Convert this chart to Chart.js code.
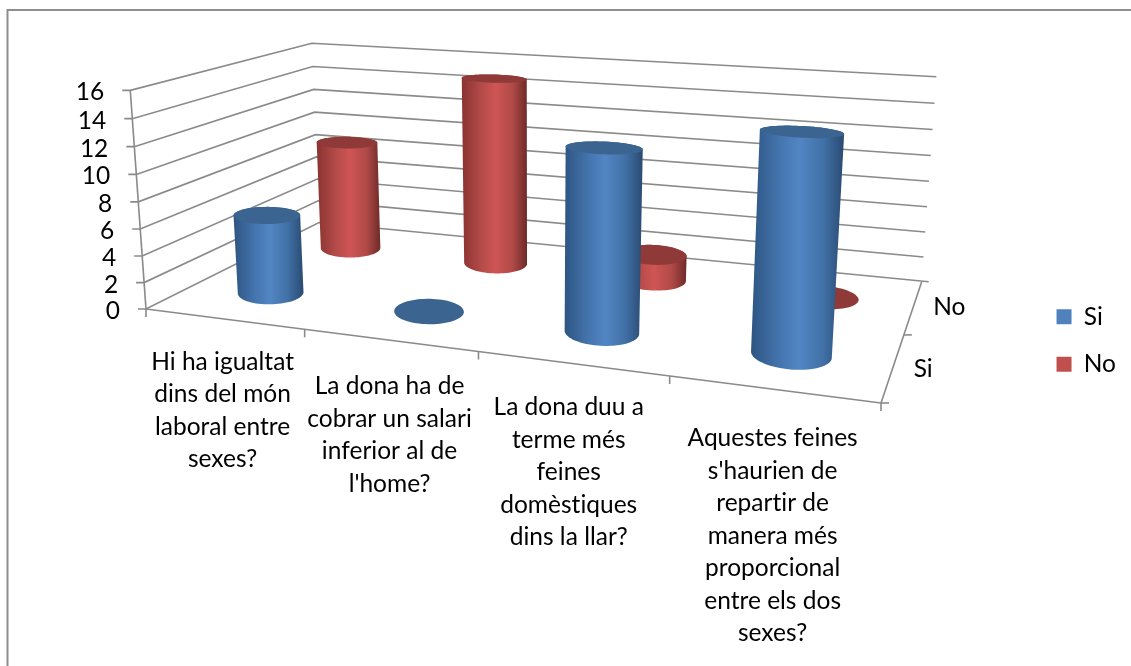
<!DOCTYPE html>
<html>
<head>
<meta charset="utf-8">
<style>html,body{margin:0;background:#fff}canvas{display:block}</style>
<script src="https://cdn.jsdelivr.net/npm/chart.js@4"></script>
</head>
<body>
<canvas id="grafic" width="1131" height="666"></canvas>
<script>
const categories = [
    ['Hi ha igualtat', 'dins del món', 'laboral entre', 'sexes?'],
    ['La dona ha de', 'cobrar un salari', 'inferior al de', "l'home?"],
    ['La dona duu a', 'terme més', 'feines', 'domèstiques', 'dins la llar?'],
    ['Aquestes feines', "s'haurien de", 'repartir de', 'manera més', 'proporcional', 'entre els dos', 'sexes?']
];
const valorsSi = [6, 0, 13, 15];
const valorsNo = [9, 15, 2, 0];
const maxY = 16;
const pasY = 2;

// terra de la caixa 3D en pixels (davant-esq, davant-dre, fons-dre, fons-esq)
const terra = [[146, 309], [881, 403], [921.7, 281.7], [319, 222.5]];
const GRIS = '#8a8a8a';
const FONT = '24.5px Lato';
const RADI_U = 0.05, RADI_W = 0.115, ESTRET_W = 0.6;
const ajustEtiq = [[-1, 0], [0, 3], [-3, 1], [0, 6]];
const ajustFila = [[30, 2], [36, 0]];
const estils = [
    { tapa: '#3c6491', stops: ['#2d5582', '#4474ad', '#5285c4', '#4070a5', '#2a4a72'] },
    { tapa: '#8f3a38', stops: ['#8a3331', '#b34b49', '#cf5553', '#b04a48', '#6e2a28'] }
];

function homografia(q) {
    const [[x0, y0], [x1, y1], [x2, y2], [x3, y3]] = q;
    const dx1 = x1 - x2, dx2 = x3 - x2, sx = x0 - x1 + x2 - x3;
    const dy1 = y1 - y2, dy2 = y3 - y2, sy = y0 - y1 + y2 - y3;
    const den = dx1 * dy2 - dx2 * dy1;
    const g = (sx * dy2 - dx2 * sy) / den, h = (dx1 * sy - sx * dy1) / den;
    const a = x1 - x0 + g * x1, b = x3 - x0 + h * x3;
    const d = y1 - y0 + g * y1, e = y3 - y0 + h * y3;
    return (u, w) => {
        const z = g * u + h * w + 1;
        return [(a * u + b * w + x0) / z, (d * u + e * w + y0) / z];
    };
}
const hTerra = homografia(terra);

// alçada total en pixels segons el punt del terra, i les verticals convergeixen cap avall
function projecta(u, w, v) {
    const p = hTerra(u, w);
    const alt = -0.0016 * p[0] + 0.4519 * p[1] + 79.2;
    const t = v / (v + (1 - v) * 1.04);
    return [p[0] + (p[0] - 535) * 0.000185 * alt * t, p[1] - alt * t];
}

function linia(ctx, a, b) {
    ctx.beginPath();
    ctx.moveTo(a[0], a[1]);
    ctx.lineTo(b[0], b[1]);
    ctx.stroke();
}

function envolupant(punts) {
    const p = punts.slice().sort((a, b) => a[0] - b[0] || a[1] - b[1]);
    const cross = (o, a, b) => (a[0] - o[0]) * (b[1] - o[1]) - (a[1] - o[1]) * (b[0] - o[0]);
    const fer = llista => {
        const r = [];
        llista.forEach(c => {
            while (r.length > 1 && cross(r[r.length - 2], r[r.length - 1], c) <= 0) r.pop();
            r.push(c);
        });
        r.pop();
        return r;
    };
    return fer(p).concat(fer(p.slice().reverse()));
}

function poligon(ctx, punts, color) {
    ctx.beginPath();
    punts.forEach((p, i) => i ? ctx.lineTo(p[0], p[1]) : ctx.moveTo(p[0], p[1]));
    ctx.closePath();
    ctx.fillStyle = color;
    ctx.fill();
}

// com més amunt, més plana es veu la tapa
function cercle(u, w, v) {
    const c = projecta(u, w, v), pu = projecta(u + RADI_U, w, v), pw = projecta(u, w + RADI_W, v);
    const pla = 1 - 0.35 * v;
    const ux = pu[0] - c[0], uy = pu[1] - c[1], wx = (pw[0] - c[0]) * ESTRET_W, wy = (pw[1] - c[1]) * pla;
    const r = [];
    for (let i = 0; i < 72; i++) {
        const a = i / 72 * Math.PI * 2, co = Math.cos(a), si = Math.sin(a);
        r.push([c[0] + ux * co + wx * si, c[1] + uy * co + wy * si]);
    }
    return r;
}

const caixa3D = {
    id: 'caixa3D',
    beforeDatasetsDraw(chart) {
        const ctx = chart.ctx, xS = chart.scales.x, yS = chart.scales.y;
        ctx.save();
        // marc
        ctx.strokeStyle = '#8e8e8e';
        ctx.lineWidth = 2;
        ctx.beginPath();
        ctx.moveTo(7.5, 666);
        ctx.lineTo(7.5, 10);
        ctx.lineTo(1131, 10);
        ctx.stroke();

        // graella de les parets i eix Y
        ctx.strokeStyle = GRIS;
        ctx.lineWidth = 1.6;
        ctx.fillStyle = '#000';
        ctx.font = FONT;
        ctx.letterSpacing = '0.01px';
        ctx.textAlign = 'right';
        ctx.textBaseline = 'middle';
        yS.ticks.forEach(t => {
            const v = (yS.bottom - yS.getPixelForValue(t.value)) / yS.height;
            const a = projecta(0, 0, v), b = projecta(0, 1, v), c = projecta(1, 1, v);
            ctx.beginPath();
            ctx.moveTo(a[0] - 8, a[1]);
            ctx.lineTo(a[0], a[1]);
            ctx.lineTo(b[0], b[1]);
            ctx.lineTo(c[0] + (v === 0 ? 7 : 0), c[1]);
            ctx.stroke();
            ctx.fillText(t.label, a[0] - 26, a[1] + 2);
        });
        linia(ctx, projecta(0, 0, 0), projecta(0, 0, 1));

        // vores del terra i marques
        linia(ctx, projecta(0, 0, 0), projecta(1, 0, 0));
        linia(ctx, projecta(1, 0, 0), projecta(1, 1, 0));
        const nCat = xS.getLabels().length;
        for (let i = 0; i <= nCat; i++) {
            const p = projecta(i / nCat, 0, 0);
            linia(ctx, p, [p[0], p[1] + 8]);
        }
        const nFiles = chart.data.datasets.length;
        for (let i = 0; i < nFiles; i++) {
            const p = projecta(1, i / nFiles, 0);
            linia(ctx, p, [p[0] + 8, p[1]]);
        }

        // etiquetes de categoria
        ctx.textAlign = 'center';
        xS.getLabels().forEach((linies, i) => {
            const u = (xS.getPixelForValue(i) - xS.left) / xS.width;
            const p = projecta(u, 0, 0);
            linies.forEach((l, k) => ctx.fillText(l, p[0] + ajustEtiq[i][0], p[1] + ajustEtiq[i][1] + 43 + k * 32.5));
        });
        // etiquetes de profunditat
        chart.data.datasets.forEach((ds, i) => {
            const p = projecta(1, (i + 0.5) / nFiles, 0);
            ctx.fillText(ds.label, p[0] + ajustFila[i][0], p[1] + ajustFila[i][1]);
        });
        ctx.restore();
    },
    beforeDatasetDraw(chart, args) {
        const ctx = chart.ctx, xS = chart.scales.x, yS = chart.scales.y;
        const fila = args.index, estil = estils[fila];
        const w = (fila + 0.5) / chart.data.datasets.length;
        ctx.save();
        args.meta.controller.getDataset().data.forEach((valor, i) => {
            const u = (xS.getPixelForValue(i) - xS.left) / xS.width;
            const v = (yS.bottom - yS.getPixelForValue(valor)) / yS.height;
            const base = cercle(u, w, 0), tapa = cercle(u, w, v);
            if (valor > 0) {
                const cos = envolupant(base.concat(tapa));
                const xs = cos.map(p => p[0]);
                const gr = ctx.createLinearGradient(Math.min(...xs), 0, Math.max(...xs), 0);
                [0, 0.3, 0.52, 0.78, 1].forEach((s, k) => gr.addColorStop(s, estil.stops[k]));
                poligon(ctx, cos, gr);
            }
            poligon(ctx, tapa, estil.tapa);
        });
        ctx.restore();
        return false;
    }
};

new Chart(document.getElementById('grafic'), {
    type: 'bar',
    data: {
        labels: categories,
        datasets: [
            { label: 'Si', data: valorsSi, backgroundColor: '#4f81bd' },
            { label: 'No', data: valorsNo, backgroundColor: '#c0504d' }
        ]
    },
    options: {
        responsive: false,
        animation: false,
        layout: { padding: { top: 15, right: 5 } },
        scales: {
            x: { display: false },
            y: { display: false, min: 0, max: maxY, ticks: { stepSize: pasY } }
        },
        plugins: {
            tooltip: { enabled: false },
            legend: {
                position: 'right',
                labels: {
                    boxWidth: 15,
                    boxHeight: 15,
                    padding: 23,
                    color: '#000',
                    font: { family: 'Lato', size: 24.5 }
                }
            }
        }
    },
    plugins: [caixa3D]
});
</script>
</body>
</html>
